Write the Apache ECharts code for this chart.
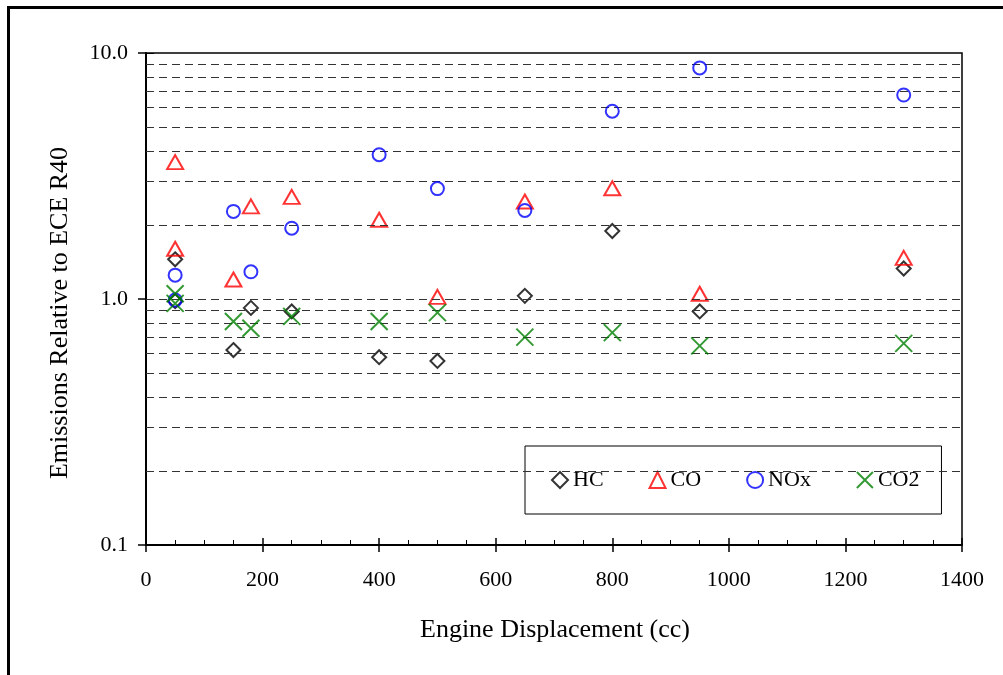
<!DOCTYPE html>
<html>
<head>
<meta charset="utf-8">
<script src="https://cdn.jsdelivr.net/npm/echarts@6/dist/echarts.min.js"></script>
<style>
  html, body { margin: 0; padding: 0; background: #fff; }
  #main { width: 1003px; height: 675px; }
</style>
</head>
<body>
<div id="main"></div>
<script>
  // engine displacement (cc), same x for every series
  const displacement = [50, 50, 150, 180, 250, 400, 500, 650, 800, 950, 1300]
  const hcValues  = [1.45, 0.98, 0.62, 0.92, 0.89, 0.58, 0.56, 1.03, 1.89, 0.89, 1.33]
  const coValues  = [3.6, 1.6, 1.2, 2.38, 2.6, 2.1, 1.02, 2.49, 2.82, 1.05, 1.47]
  const noxValues = [1.25, 0.99, 2.27, 1.29, 1.94, 3.86, 2.81, 2.29, 5.8, 8.7, 6.75]
  const co2Values = [1.05, 0.96, 0.81, 0.76, 0.85, 0.81, 0.88, 0.70, 0.73, 0.645, 0.66]
  const seriesNames = ['HC', 'CO', 'NOx', 'CO2']
  const yTickLabels = [0.1, 1, 10]
  const gridValues = [0.2, 0.3, 0.4, 0.5, 0.6, 0.7, 0.8, 0.9, 1, 2, 3, 4, 5, 6, 7, 8, 9]
  const minorTickValues = [0.1, 0.2, 0.3, 0.4, 0.5, 0.6, 0.7, 0.8, 0.9, 1, 2, 3, 4, 5, 6, 7, 8, 9, 10]

  const font = 'Liberation Serif'
  const pairs = vals => displacement.map((x, i) => [x, vals[i]])

  const chart = echarts.init(document.getElementById('main'))

  const option = {
    animation: false,
    backgroundColor: '#fff',
    textStyle: { fontFamily: font },
    grid: {
      left: 146, right: 41, top: 53, bottom: 130,
      show: true, borderColor: '#000', borderWidth: 1.5, backgroundColor: 'transparent'
    },
    legend: {
      data: seriesNames,
      left: 525, top: 446,
      padding: [23, 22, 23, 26],
      itemGap: 45, itemWidth: 16, itemHeight: 16,
      backgroundColor: '#fff', borderColor: '#000', borderWidth: 1,
      textStyle: { fontFamily: font, fontSize: 22, color: '#000' }
    },
    xAxis: [
      {
        type: 'value', min: 0, max: 1400, interval: 200,
        axisLine: { lineStyle: { color: '#000', width: 2 } },
        axisTick: { inside: true, length: 7, lineStyle: { color: '#000', width: 1.5 } },
        minorTick: { show: true, splitNumber: 4, length: 5, lineStyle: { color: '#000', width: 1 } },
        axisLabel: { fontFamily: font, fontSize: 22, color: '#000', margin: 24, formatter: v => String(v) },
        splitLine: { show: false }
      },
      {
        // outer half of the major ticks
        type: 'value', min: 0, max: 1400, interval: 200, position: 'bottom',
        axisLine: { show: false },
        axisTick: { inside: false, length: 7, lineStyle: { color: '#000', width: 1.5 } },
        axisLabel: { show: false },
        splitLine: { show: false }
      }
    ],
    yAxis: [
      {
        type: 'log', logBase: 10, min: 0.1, max: 10,
        axisLine: { show: true, lineStyle: { color: '#000', width: 2 } },
        axisTick: { inside: false, length: 8, lineStyle: { color: '#000', width: 1.5 } },
        axisLabel: {
          customValues: yTickLabels,
          fontFamily: font, fontSize: 22, color: '#000', margin: 18,
          formatter: v => Number(v).toFixed(1)
        },
        splitLine: { show: false }
      },
      {
        // inner ticks at every 1..9 step
        type: 'log', logBase: 10, min: 0.1, max: 10, position: 'left',
        axisLine: { show: false },
        axisTick: { customValues: minorTickValues, inside: true, length: 8, lineStyle: { color: '#000', width: 1 } },
        axisLabel: { show: false },
        splitLine: { show: false }
      }
    ],
    series: [
      {
        name: 'HC', type: 'scatter', data: pairs(hcValues),
        symbol: 'diamond', symbolSize: 14,
        itemStyle: { color: 'rgba(0,0,0,0)', borderColor: '#000', borderWidth: 2 },
        markLine: {
          silent: true, symbol: 'none', label: { show: false },
          lineStyle: { color: '#333', width: 1, type: [8, 5] },
          data: gridValues.map(v => ({ yAxis: v }))
        },
        z: 3
      },
      {
        name: 'CO', type: 'scatter', data: pairs(coValues),
        symbol: 'triangle', symbolSize: [16, 14],
        itemStyle: { color: 'rgba(0,0,0,0)', borderColor: '#ff0000', borderWidth: 2 },
        z: 4
      },
      {
        name: 'NOx', type: 'scatter', data: pairs(noxValues),
        symbol: 'circle', symbolSize: 13,
        itemStyle: { color: 'rgba(0,0,0,0)', borderColor: '#0000ff', borderWidth: 2 },
        z: 5
      },
      {
        name: 'CO2', type: 'scatter', data: pairs(co2Values),
        symbol: 'path://M0,0L10,10M10,0L0,10', symbolSize: 17,
        itemStyle: { color: 'rgba(0,0,0,0)', borderColor: '#008000', borderWidth: 2 },
        z: 6
      }
    ],
    graphic: [
      {
        type: 'rect', silent: true, z: 100,
        shape: { x: 8.5, y: 7.5, width: 1100, height: 700 },
        style: { fill: 'none', stroke: '#000', lineWidth: 3 }
      },
      {
        type: 'text', x: 60, y: 313, rotation: Math.PI / 2,
        style: {
          text: 'Emissions Relative to ECE R40', fill: '#000',
          font: '26px "Liberation Serif"', align: 'center', verticalAlign: 'middle'
        }
      },
      {
        type: 'text', x: 555, y: 630,
        style: {
          text: 'Engine Displacement (cc)', fill: '#000',
          font: '26px "Liberation Serif"', align: 'center', verticalAlign: 'middle'
        }
      }
    ]
  }

  chart.setOption(option)
</script>
</body>
</html>
